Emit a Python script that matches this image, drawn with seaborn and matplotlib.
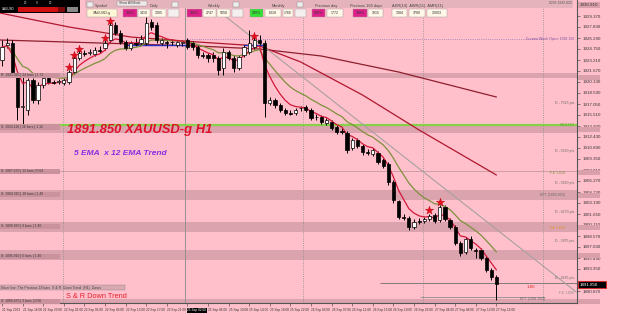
import numpy as np
import pandas as pd
import matplotlib
matplotlib.use("Agg")
import matplotlib.pyplot as plt
import seaborn as sns
from matplotlib.patches import Rectangle

# ---------------- data (XAUUSD-g, H1) ----------------
opens = [1923.21, 1925.31, 1925.59, 1920.83, 1916.63, 1916.21, 1920.41, 1917.61, 1919.71, 1920.69,
         1920.13, 1920.13, 1919.99, 1920.13, 1921.53, 1923.49, 1924.19, 1924.19, 1924.05, 1924.61,
         1924.89, 1926.01, 1928.11, 1926.99, 1925.73, 1924.89, 1925.59, 1925.59, 1925.59, 1928.53,
         1928.11, 1925.59, 1925.73, 1925.73, 1925.31, 1925.59, 1926.01, 1925.59, 1925.03, 1923.91,
         1923.91, 1923.91, 1923.49, 1922.09, 1924.33, 1923.49, 1922.09, 1923.91, 1924.33, 1925.03,
         1926.01, 1925.59, 1917.19, 1917.61, 1916.91, 1916.21, 1915.79, 1915.79, 1916.49, 1916.63,
         1916.21, 1915.23, 1915.23, 1914.39, 1914.53, 1913.83, 1913.27, 1912.99, 1910.89, 1912.01,
         1911.17, 1910.33, 1910.05, 1910.19, 1909.21, 1908.65, 1906.13, 1903.47, 1901.23, 1901.09,
         1899.83, 1900.67, 1900.67, 1900.95, 1901.51, 1900.81, 1902.63, 1900.81, 1899.83, 1897.59,
         1896.33, 1898.15, 1896.61, 1896.61, 1895.49, 1893.81, 1892.83]
closes = [1925.03, 1925.59, 1921.53, 1916.63, 1916.77, 1920.41, 1917.61, 1919.71, 1920.69, 1920.13,
          1920.06, 1920.27, 1920.41, 1921.53, 1923.49, 1924.19, 1924.12, 1924.33, 1924.61, 1924.54,
          1925.59, 1928.11, 1926.99, 1925.73, 1924.89, 1925.59, 1925.52, 1926.15, 1928.39, 1927.83,
          1926.01, 1926.01, 1925.59, 1925.66, 1925.73, 1925.73, 1925.03, 1925.03, 1923.91, 1923.84,
          1923.49, 1923.49, 1921.81, 1924.33, 1923.49, 1922.09, 1923.63, 1925.03, 1925.59, 1926.01,
          1925.59, 1917.19, 1917.61, 1916.91, 1916.21, 1915.79, 1915.72, 1916.21, 1916.42, 1916.21,
          1915.09, 1915.16, 1914.53, 1914.81, 1913.69, 1913.13, 1913.20, 1910.61, 1912.01, 1911.17,
          1910.33, 1910.26, 1910.61, 1908.93, 1908.37, 1906.13, 1903.61, 1901.23, 1901.09, 1899.83,
          1900.53, 1900.60, 1900.95, 1901.37, 1900.67, 1902.63, 1900.95, 1899.83, 1897.59, 1896.19,
          1898.15, 1896.89, 1896.47, 1895.49, 1893.81, 1892.83, 1891.85]
highs = [1926.01, 1926.29, 1926.01, 1921.11, 1921.11, 1920.69, 1920.69, 1920.13, 1920.97, 1920.97,
         1920.41, 1920.55, 1920.69, 1921.81, 1923.77, 1924.61, 1924.61, 1924.75, 1925.03, 1925.17,
         1926.01, 1928.53, 1928.53, 1927.41, 1926.01, 1925.87, 1926.29, 1926.71, 1929.23, 1928.95,
         1928.53, 1926.29, 1926.01, 1926.15, 1926.01, 1926.01, 1926.29, 1925.87, 1925.31, 1924.33,
         1924.19, 1924.33, 1923.77, 1924.89, 1924.61, 1923.91, 1923.91, 1925.31, 1927.41, 1926.71,
         1926.71, 1926.01, 1918.03, 1917.89, 1917.19, 1916.49, 1916.21, 1916.49, 1916.77, 1916.91,
         1916.49, 1915.65, 1915.51, 1915.09, 1914.81, 1914.11, 1913.69, 1913.27, 1912.29, 1912.29,
         1911.45, 1910.75, 1910.89, 1910.47, 1909.49, 1908.93, 1906.41, 1903.61, 1901.65, 1901.37,
         1900.95, 1901.09, 1901.23, 1901.65, 1901.79, 1902.91, 1902.91, 1901.09, 1900.11, 1897.87,
         1898.43, 1898.57, 1896.89, 1896.89, 1895.77, 1894.09, 1893.11]
lows = [1922.37, 1924.89, 1920.97, 1914.81, 1914.11, 1915.51, 1917.19, 1917.05, 1919.29, 1919.85,
        1919.85, 1919.85, 1919.71, 1919.85, 1921.25, 1923.21, 1923.77, 1923.91, 1923.77, 1924.19,
        1924.61, 1925.73, 1926.71, 1925.45, 1924.61, 1924.61, 1925.17, 1925.31, 1925.31, 1927.41,
        1925.59, 1925.31, 1924.89, 1925.31, 1925.03, 1925.17, 1924.75, 1924.61, 1923.49, 1923.49,
        1922.93, 1922.93, 1921.11, 1921.11, 1923.21, 1921.53, 1921.81, 1923.63, 1924.05, 1924.75,
        1925.31, 1915.23, 1916.91, 1916.49, 1915.93, 1915.51, 1915.51, 1915.51, 1916.07, 1915.93,
        1914.81, 1914.81, 1914.25, 1914.11, 1913.41, 1912.85, 1912.85, 1910.19, 1910.61, 1910.89,
        1909.91, 1909.91, 1909.77, 1908.65, 1908.09, 1905.71, 1903.19, 1900.95, 1900.81, 1899.41,
        1899.55, 1900.25, 1900.39, 1900.67, 1900.39, 1900.53, 1900.67, 1899.55, 1897.31, 1895.77,
        1896.05, 1896.61, 1895.49, 1895.21, 1893.53, 1892.41, 1889.61]

# signal stars (bar index, price)
star_idx = [13, 14, 15, 20, 21, 49, 83, 85]
star_price = [1922.23, 1923.91, 1924.75, 1926.29, 1928.67, 1926.57, 1902.21, 1903.33]

# longer moving averages (bar index, price)
ma_fast_x = [-0.4, 13, 25, 38, 50, 58, 70, 81, 96]
ma_fast_y = [1929.79, 1927.83, 1926.43, 1925.73, 1925.17, 1922.93, 1918.31, 1913.41, 1907.11]
ma_slow_x = [-0.4, 19, 38, 50, 62, 77, 96]
ma_slow_y = [1926.01, 1925.59, 1925.17, 1924.75, 1923.77, 1921.53, 1918.03]

# trend line
trend_x = [42.3, 111.5]
trend_y = [1929.93, 1890.73]

# blue pivot segments
blue_x = [24, 36]
blue_y = [1925.31, 1925.31]
blue2_x = [47, 51]
blue2_y = [1925.31, 1925.31]

# support / resistance zones (top, bottom)
zone_top = [1921.39, 1914.11, 1905.01, 1900.53, 1896.61, 1889.75]
zone_bot = [1920.69, 1912.99, 1903.61, 1899.13, 1895.21, 1889.19]
green_level = 1914.11
week_open = 1926.15
last_price = 1891.85
level_a = 1892.00
level_b = 1890.03
level_c = 1907.67

day_sep = [11.8, 35.5, 58.4, 81.7, 105.0]

y_ticks = [1929.37, 1927.83, 1926.29, 1924.75, 1923.21, 1921.67, 1920.13, 1918.59, 1917.05,
           1915.51, 1913.97, 1912.43, 1910.89, 1909.35, 1907.81, 1906.27, 1904.73, 1903.19,
           1901.65, 1900.11, 1898.57, 1897.03, 1895.49, 1893.95, 1890.87]

x_tick_idx = list(range(0, 97, 4))
x_tick_labels = ["21 Sep 2023", "21 Sep 16:00", "21 Sep 20:00", "22 Sep 01:00", "22 Sep 05:00",
                 "22 Sep 09:00", "22 Sep 13:00", "22 Sep 17:00", "22 Sep 21:00", "25 Sep 02:00",
                 "25 Sep 06:00", "25 Sep 10:00", "25 Sep 14:00", "25 Sep 18:00", "25 Sep 22:00",
                 "26 Sep 03:00", "26 Sep 07:00", "26 Sep 11:00", "26 Sep 15:00", "26 Sep 19:00",
                 "26 Sep 23:00", "27 Sep 04:00", "27 Sep 08:00", "27 Sep 12:00", "27 Sep 16:00"]

# ---------------- style ----------------
sns.set_theme(style="white")
plt.rcParams["font.family"] = ["Liberation Sans", "DejaVu Sans"]

PINK = "#ffc0cb"
ZONE = "#dba3ae"
W, H = 625, 315

fig = plt.figure(figsize=(W / 100, H / 100), dpi=100)
fig.patch.set_facecolor(PINK)
ax = fig.add_axes([0, 12 / H, 577 / W, 303 / H])
ax.set_facecolor(PINK)

N = len(closes)
idx = np.arange(N)
df = pd.DataFrame({"i": idx, "open": opens, "close": closes, "high": highs, "low": lows})
df["ema5"] = df["close"].ewm(span=5, adjust=False).mean()
df["ema12"] = df["close"].ewm(span=12, adjust=False).mean()

# zones
for t, b in zip(zone_top, zone_bot):
    ax.axhspan(b, t, color=ZONE, lw=0, zorder=0.5)
ax.axhline(green_level, color="#86d04a", lw=1.6, zorder=0.8)
ax.axhline(level_c, color="#c49aa2", lw=0.6, zorder=0.8)
ax.hlines(week_open, 35.5, 105.5, color="#9b72b8", lw=0.6, linestyles=":", zorder=0.8)
ax.hlines(level_a, 73.4, 111.6, color="#6e6e6e", lw=0.6, zorder=0.8)
ax.hlines(level_b, 81.2, 105.4, color="#8e8e8e", lw=0.6, zorder=0.8)

for k, xs in enumerate(day_sep):
    ax.axvline(xs, color="#8a8a8a", lw=0.6, ls="-" if k == 1 else ":", zorder=0.7)

# long MAs and trend line
sns.lineplot(x=ma_slow_x, y=ma_slow_y, ax=ax, color="#8e1f2e", lw=0.9, zorder=1)
sns.lineplot(x=ma_fast_x, y=ma_fast_y, ax=ax, color="#b0172f", lw=0.9, zorder=1)
sns.lineplot(x=trend_x, y=trend_y, ax=ax, color="#a8a0a0", lw=0.8, zorder=1)
sns.lineplot(x=blue_x, y=blue_y, ax=ax, color="#2233cc", lw=1.0, zorder=1.2)
sns.lineplot(x=blue2_x, y=blue2_y, ax=ax, color="#2233cc", lw=1.0, zorder=1.2)

# candles
up = df["close"] >= df["open"]
ax.vlines(df["i"], df["low"], df["high"], color="black", lw=0.7, zorder=2)
body_bot = np.minimum(df["open"], df["close"])
body_h = np.maximum(np.abs(df["close"] - df["open"]), 0.06)
ax.bar(df["i"], body_h, bottom=body_bot, width=0.62,
       color=np.where(up, "white", "black"), edgecolor="black", linewidth=0.5, zorder=3)

# EMAs
sns.lineplot(data=df, x="i", y="ema12", ax=ax, color="#7d8f3c", lw=0.9, zorder=2.5)
sns.lineplot(data=df, x="i", y="ema5", ax=ax, color="#d4183a", lw=0.9, zorder=2.6)

# stars
sns.scatterplot(x=star_idx, y=star_price, ax=ax, marker="*", s=38, color="#e8101c",
                edgecolor="#b00010", linewidth=0.3, zorder=4)

ax.set_xlim(-0.39, 111.65)
ax.set_ylim(1889.19, 1931.61)
ax.set_xlabel("")
ax.set_ylabel("")
for s in ["left", "top"]:
    ax.spines[s].set_visible(False)
for s in ["right", "bottom"]:
    ax.spines[s].set_visible(True)
    ax.spines[s].set_color("#555555")
    ax.spines[s].set_linewidth(0.8)

ax.yaxis.tick_right()
ax.set_yticks(y_ticks)
ax.set_yticklabels([f"{v:.3f}" for v in y_ticks])
ax.tick_params(axis="y", labelsize=3.2, length=2, width=0.4, pad=2, colors="#333333", right=True)
ax.set_xticks(x_tick_idx)
ax.set_xticklabels(x_tick_labels)
for lab in ax.get_xticklabels():
    lab.set_horizontalalignment("left")
ax.tick_params(axis="x", labelsize=2.3, length=2, width=0.4, pad=1.8, colors="#333333", bottom=True)
hl = ax.get_xticklabels()[9]
hl.set_color("white")
hl.set_bbox(dict(facecolor="black", edgecolor="none", pad=0.4))

# ---------------- annotations in pixel space ----------------
def fx(x):
    return x / W

def fy(y):
    return 1 - y / H

def fbox(x0, y0, x1, y1, fc, ec="none", lw=0.4, z=5):
    fig.add_artist(Rectangle((fx(x0), fy(y1)), (x1 - x0) / W, (y1 - y0) / H,
                             transform=fig.transFigure, facecolor=fc, edgecolor=ec,
                             linewidth=lw, zorder=z))

def ftext(x, y, s, fs=3.0, c="#333333", ha="left", va="center", z=6, **kw):
    fig.text(fx(x), fy(y), s, fontsize=fs, color=c, ha=ha, va=va, zorder=z, **kw)

# main titles
ftext(67, 130, "1891.850 XAUUSD-g H1", fs=9.4, c="#e0102a", weight="bold", style="italic")
ftext(74, 153, "5 EMA  x 12 EMA Trend", fs=6.0, c="#8a2be2", weight="bold", style="italic")
ftext(66, 297, "S & R Down Trend", fs=5.3, c="#e8202a")

# left S/R labels
left_lbl = [(75, "R: 1921.040 | 24 bars | 1.72"), (127, "S: 1914.110 | 36 bars | 1.12"),
            (171, "S: 1907.670 | 12 bars | 0.64"), (194, "S: 1904.310 | 18 bars | 1.40"),
            (226, "S: 1899.830 | 9 bars | 1.40"), (256, "S: 1895.910 | 6 bars | 1.40"),
            (301, "S: 1889.470 | 3 bars | 0.56")]
for yy, s in left_lbl:
    fbox(0, yy - 2.5, 60, yy + 2.5, "#c9929c")
    ftext(1, yy, s, fs=2.4, c="#3a3a3a")
fbox(0, 285, 125, 290, "#d7a9b1", ec="#9a8088", lw=0.3)
ftext(1, 287.5, "Silver line: The Previous 18 bars  S & R  Down Trend  (H1)  Zones", fs=2.4, c="#3a3a3a")

# right side notes (right-aligned against the price scale)
notes = [(574, 39, "Current Week Open: 1926.150", "#7a4fa0"),
         (574, 103, "D - 7525 pts", "#6a6a6a"), (574, 151, "D - 5930 pts", "#6a6a6a"),
         (565, 173, "F.E 1.618", "#7d8f3c"), (574, 183, "D - 3160 pts", "#6a6a6a"),
         (565, 195, "EFT (1893.820)", "#6a6a6a"), (574, 212, "D - 4270 pts", "#6a6a6a"),
         (565, 228, "Fib 1.618", "#e09020"), (574, 241, "D - 3975 pts", "#6a6a6a"),
         (574, 278, "D - 4635 pts", "#6a6a6a"), (574, 293, "F.E 1.000", "#8a8a8a"),
         (545, 299, "EFT (1891.850)", "#6a6a6a"), (574, 125, "1914.110", "#5aa030")]
for xx, yy, s, c in notes:
    ftext(xx, yy, s, fs=2.5, c=c, ha="right")
ftext(527, 287, "1.00", fs=3.2, c="#e02020")

# axis highlight boxes
for yy in [5, 77, 129, 172, 195, 227, 255, 301]:
    fbox(578, yy - 2.5, 600, yy + 2.5, "#d9a0ab", z=4)
fbox(578, 281, 606, 288, "black", ec="#e02020", lw=0.6, z=7)
ftext(580, 284.5, "1891.850", fs=3.2, c="white", z=8)
ftext(580, 5, "1930.910", fs=3.2, c="#333333")

# top-left black status box
fbox(0, 0, 80, 13, "black", z=5)
fbox(18, 7, 58, 12, "#d01010", z=6)
fbox(58, 7, 65, 12, "#7a0a0a", z=6)
fbox(67, 7, 78, 12, "#888888", z=6)
ftext(2, 9.5, "XAUUSD", fs=2.2, c="white", z=7)
for xx, s in [(24, "20"), (36, "0"), (49, "20")]:
    ftext(xx, 3.5, s, fs=2.2, c="#dddddd", z=7)

# top control panel
fbox(85, 0, 573, 8, "#e5b3bc", z=5)
ftext(572, 3, "0205 1932.820", fs=2.4, c="#555555", ha="right", z=7)
heads = [(95, "Symbol"), (150, "Daily"), (208, "Weekly"), (272, "Monthly"),
         (315, "Previous day"), (350, "Previous 160 days"), (392, "ADR(10)  AWR(11)  AMR(11)")]
for xx, s in heads:
    ftext(xx, 5.5, s, fs=2.8, c="#444444", z=7)
fbox(117, 1, 147, 6, "#f0e8e8", ec="#888888", lw=0.3, z=6)
ftext(119, 3.5, "Show All Mode", fs=2.3, c="#444444", z=7)
for xx in [87, 172, 233, 297]:
    fbox(xx, 2, xx + 6, 7, "#eeeeee", ec="#888888", lw=0.3, z=6)

boxes = [(87, 117, "#fff6d5", "XAUUSD-g"), (123, 137, "#e0208a", "100%"), (138, 150, "#fff8e8", "1419"),
         (152, 166, "#fff8e8", "1305"), (187, 202, "#e0208a", "100%"), (203, 216, "#fff8e8", "2747"),
         (217, 230, "#fff8e8", "5058"), (250, 263, "#33e033", "100%"), (265, 281, "#fff8e8", "6318"),
         (283, 293, "#fff8e8", "1766"), (312, 325, "#e0208a", "100%"), (327, 343, "#fff8e8", "1772"),
         (353, 367, "#e0208a", "100%"), (368, 383, "#fff8e8", "1915"), (392, 407, "#fff8e8", "1384"),
         (409, 425, "#fff8e8", "3780"), (427, 447, "#fff8e8", "12003")]
for x0, x1, fc, s in boxes:
    fbox(x0, 9, x1, 17, fc, ec="#999999", lw=0.3, z=6)
    ftext((x0 + x1) / 2, 13, s, fs=2.6, c="#333333", ha="center", z=7)
for x0 in [168, 232, 295]:
    fbox(x0, 9, x0 + 11, 17, "#f4f0f0", ec="#999999", lw=0.3, z=6)

fig.savefig("out.png", dpi=100, facecolor=PINK)
